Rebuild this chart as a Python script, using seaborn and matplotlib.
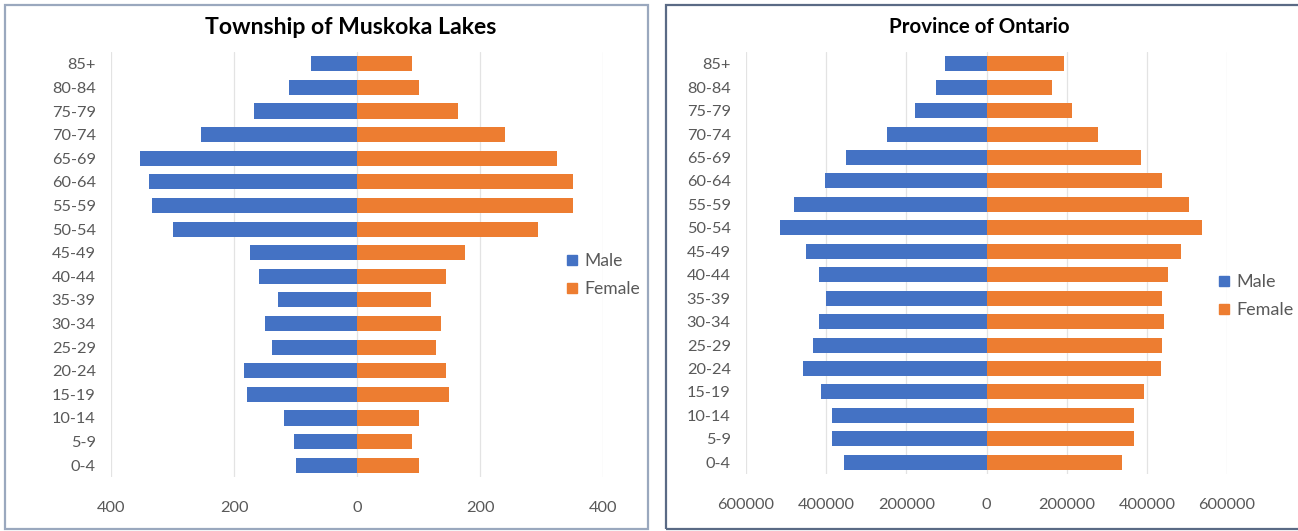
import matplotlib
matplotlib.use("Agg")
import matplotlib.pyplot as plt
from matplotlib.patches import Rectangle
from matplotlib.lines import Line2D
from matplotlib.ticker import FuncFormatter
import seaborn as sns
import pandas as pd

age_groups = ["85+", "80-84", "75-79", "70-74", "65-69", "60-64", "55-59", "50-54",
              "45-49", "40-44", "35-39", "30-34", "25-29", "20-24", "15-19",
              "10-14", "5-9", "0-4"]

muskoka_male = [74, 110, 168, 253, 353, 338, 334, 299, 174, 159, 129, 149, 139,
                184, 179, 118, 103, 99]
muskoka_female = [90, 100, 165, 241, 325, 351, 351, 295, 175, 145, 120, 136, 129,
                  145, 150, 100, 90, 100]

ontario_male = [104000, 127000, 179000, 249000, 351000, 403000, 480000, 515000,
                451000, 417000, 401000, 418000, 434000, 457000, 414000, 385000,
                385000, 355000]
ontario_female = [194000, 164000, 214000, 278000, 385000, 439000, 505000, 538000,
                  484000, 454000, 439000, 443000, 438000, 435000, 394000, 367000,
                  369000, 338000]

muskoka_ticks = [-400, -200, 0, 200, 400]
ontario_ticks = [-600000, -400000, -200000, 0, 200000, 400000, 600000]

sexes = ["Male", "Female"]
colors = {"Male": "#4472C4", "Female": "#ED7D31"}

sns.set_theme(style="white")
plt.rcParams["font.family"] = ["Lato", "DejaVu Sans"]

W, H = 1298, 531
fig = plt.figure(figsize=(W / 100, H / 100), dpi=100)


def px_axes(x0, x1, y0, y1):
    return fig.add_axes([x0 / W, 1 - y1 / H, (x1 - x0) / W, (y1 - y0) / H])


def pyramid(ax, male, female, ticks):
    df = pd.DataFrame({
        "age": age_groups * 2,
        "sex": ["Male"] * len(age_groups) + ["Female"] * len(age_groups),
        "value": [-v for v in male] + list(female),
    })
    sns.barplot(data=df, y="age", x="value", hue="sex", order=age_groups,
                hue_order=sexes, palette=colors, dodge=False, width=0.64,
                orient="h", ax=ax, legend=False, saturation=1)
    ax.set_xlim(ticks[0], ticks[-1])
    ax.set_ylim(len(age_groups) - 0.5, -0.5)
    ax.set_xticks(ticks)
    ax.xaxis.set_major_formatter(FuncFormatter(lambda v, _: f"{abs(int(v))}"))
    ax.set_xlabel("")
    ax.set_ylabel("")
    ax.grid(axis="x", color="#E3E3E3", linewidth=0.9)
    ax.set_axisbelow(True)
    for s in ax.spines.values():
        s.set_visible(False)
    ax.tick_params(axis="x", length=0, pad=17, labelsize=11.8, labelcolor="#595959")
    ax.tick_params(axis="y", length=0, pad=11, labelsize=11.8, labelcolor="#595959")
    for b in ax.patches:
        b.set_edgecolor("none")


ax1 = px_axes(111, 603, 52, 477)
pyramid(ax1, muskoka_male, muskoka_female, muskoka_ticks)
ax2 = px_axes(746, 1227, 52, 474)
pyramid(ax2, ontario_male, ontario_female, ontario_ticks)

# Panel frames
fig.patches.append(Rectangle((5 / W, 1 - 529 / H), (648 - 5) / W, (529 - 5) / H,
                             transform=fig.transFigure, fill=False,
                             edgecolor="#9AA8BE", linewidth=1.6))
fig.patches.append(Rectangle((666 / W, 1 - 529 / H), (1310 - 666) / W, (529 - 5) / H,
                             transform=fig.transFigure, fill=False,
                             edgecolor="#5A6A85", linewidth=1.6))

# Titles
fig.text(351 / W, 1 - 27 / H, "Township of Muskoka Lakes", ha="center", va="center",
         fontsize=16.6, fontweight="bold", color="#000000")
fig.text(979 / W, 1 - 27 / H, "Province of Ontario", ha="center", va="center",
         fontsize=14.8, fontweight="bold", color="#000000")

# Legends
handles = [Line2D([0], [0], marker="s", linestyle="none", markersize=7.5,
                  markerfacecolor=colors[s], markeredgecolor=colors[s]) for s in sexes]
for (x, y, fs) in [(559, 275, 12.6), (1210, 296, 13.0)]:
    fig.legend(handles, sexes, loc="center left", bbox_to_anchor=(x / W, 1 - y / H),
               frameon=False, fontsize=fs, labelcolor="#595959", handlelength=0.7,
               handletextpad=0.35, labelspacing=0.65, borderaxespad=0)

fig.savefig("out.png", dpi=100, facecolor="white")
